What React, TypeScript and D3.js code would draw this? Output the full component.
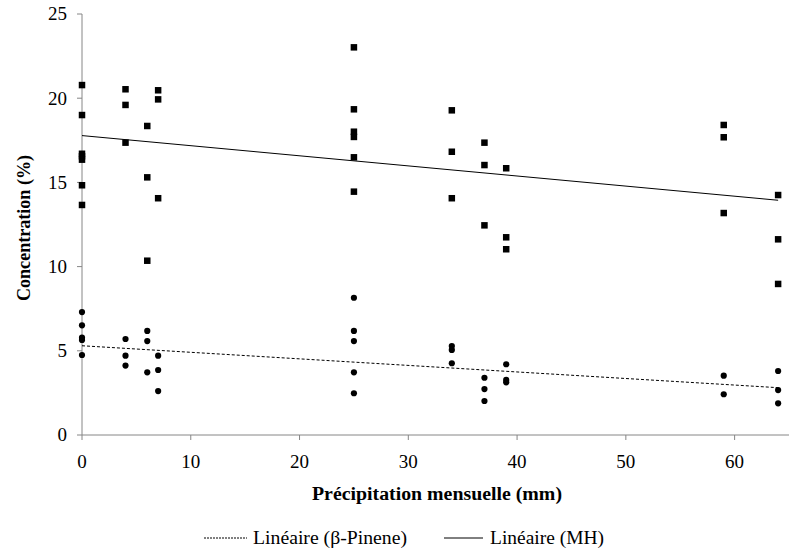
import React from "react";
import * as d3 from "d3";

// Monthly precipitation (mm) and concentrations (%)
const mhX = [0, 0, 0, 0, 0, 0, 0, 4, 4, 4, 6, 6, 6, 7, 7, 7, 25, 25, 25, 25, 25, 25, 34, 34, 34, 37, 37, 37, 39, 39, 39, 59, 59, 59, 64, 64, 64];
const mhY = [20.78, 19.0, 16.7, 16.55, 16.35, 14.83, 13.66, 20.53, 19.6, 17.36, 18.35, 15.3, 10.35, 20.47, 19.93, 14.06, 23.02, 19.34, 18.01, 17.7, 16.49, 14.45, 19.28, 16.82, 14.06, 17.36, 16.03, 12.45, 15.84, 11.74, 11.03, 18.41, 17.68, 13.18, 14.25, 11.62, 8.97];

const pinX = [0, 0, 0, 0, 0, 4, 4, 4, 6, 6, 6, 7, 7, 7, 25, 25, 25, 25, 25, 34, 34, 34, 37, 37, 37, 39, 39, 39, 59, 59, 64, 64, 64];
const pinY = [7.3, 6.51, 5.78, 5.64, 4.75, 5.7, 4.71, 4.12, 6.18, 5.58, 3.72, 4.71, 3.86, 2.61, 8.15, 6.18, 5.58, 3.72, 2.48, 5.28, 5.05, 4.26, 3.4, 2.73, 2.02, 4.2, 3.27, 3.13, 3.52, 2.42, 3.8, 2.67, 1.88];

// Linear trend endpoints
const trendX = [0, 64];
const trendMH = [17.78, 13.94];
const trendPin = [5.3, 2.81];

const xTicks = [0, 10, 20, 30, 40, 50, 60];
const yTicks = [0, 5, 10, 15, 20, 25];

const xTitle = "Précipitation mensuelle (mm)";
const yTitle = "Concentration (%)";
const legendPin = "Linéaire (β-Pinene)";
const legendMH = "Linéaire (MH)";

const FONT = "Liberation Serif, Times New Roman, serif";

export default function App() {
  const W = 790, H = 550;
  const left = 82, right = 789, top = 14, bottom = 435;
  const x = d3.scaleLinear().domain([0, 65]).range([left, right]);
  const y = d3.scaleLinear().domain([0, 25]).range([bottom, top]);
  const line = d3.line<number>().x((_, i) => x(trendX[i])).y((d) => y(d));
  const axisColor = "#868686";
  const sq = 6.5;
  const ts = { fontFamily: FONT } as React.CSSProperties;

  return (
    <svg width={W} height={H} style={{ position: "absolute", left: 0, top: 0, background: "#fff", fontFamily: FONT }}>
      <rect x={0} y={0} width={W} height={H} fill="#fff" />
      {/* axes */}
      <line x1={left} x2={left} y1={top} y2={bottom} stroke={axisColor} strokeWidth={1} />
      <line x1={left} x2={right} y1={bottom} y2={bottom} stroke={axisColor} strokeWidth={1} />
      {yTicks.map((t) => (
        <g key={"y" + t}>
          <line x1={left - 5} x2={left} y1={y(t)} y2={y(t)} stroke={axisColor} />
          <text style={ts} x={left - 15} y={y(t)} dy="0.34em" textAnchor="end" fontSize={19} fill="#000">{t}</text>
        </g>
      ))}
      {xTicks.map((t) => (
        <g key={"x" + t}>
          <line x1={x(t)} x2={x(t)} y1={bottom} y2={bottom + 5} stroke={axisColor} />
          <text style={ts} x={x(t)} y={462} dy="0.34em" textAnchor="middle" fontSize={19} fill="#000">{t}</text>
        </g>
      ))}
      {/* titles */}
      <text style={ts} x={437} y={494} dy="0.34em" textAnchor="middle" fontSize={18} fontWeight="bold" textLength={250} lengthAdjust="spacingAndGlyphs">{xTitle}</text>
      <text style={ts} transform={`translate(24,${228}) rotate(-90)`} dy="0.34em" textAnchor="middle" fontSize={18} fontWeight="bold" textLength={146} lengthAdjust="spacingAndGlyphs">{yTitle}</text>
      {/* points */}
      {mhY.map((v, i) => (
        <rect key={"m" + i} x={x(mhX[i]) - sq / 2} y={y(v) - sq / 2} width={sq} height={sq} fill="#000" />
      ))}
      {pinY.map((v, i) => (
        <circle key={"p" + i} cx={x(pinX[i])} cy={y(v)} r={3.1} fill="#000" />
      ))}
      {/* trend lines */}
      <path d={line(trendMH) || ""} fill="none" stroke="#000" strokeWidth={1} />
      <path d={line(trendPin) || ""} fill="none" stroke="#000" strokeWidth={1} strokeDasharray="3,2" />
      {/* legend */}
      <line x1={204} x2={247} y1={538} y2={538} stroke="#000" strokeWidth={1} strokeDasharray="2,1" />
      <text style={ts} x={253} y={538} dy="0.34em" fontSize={18} fill="#000" textLength={154} lengthAdjust="spacingAndGlyphs">{legendPin}</text>
      <line x1={444} x2={483} y1={538} y2={538} stroke="#000" strokeWidth={1} />
      <text style={ts} x={490} y={538} dy="0.34em" fontSize={18} fill="#000" textLength={114} lengthAdjust="spacingAndGlyphs">{legendMH}</text>
    </svg>
  );
}
